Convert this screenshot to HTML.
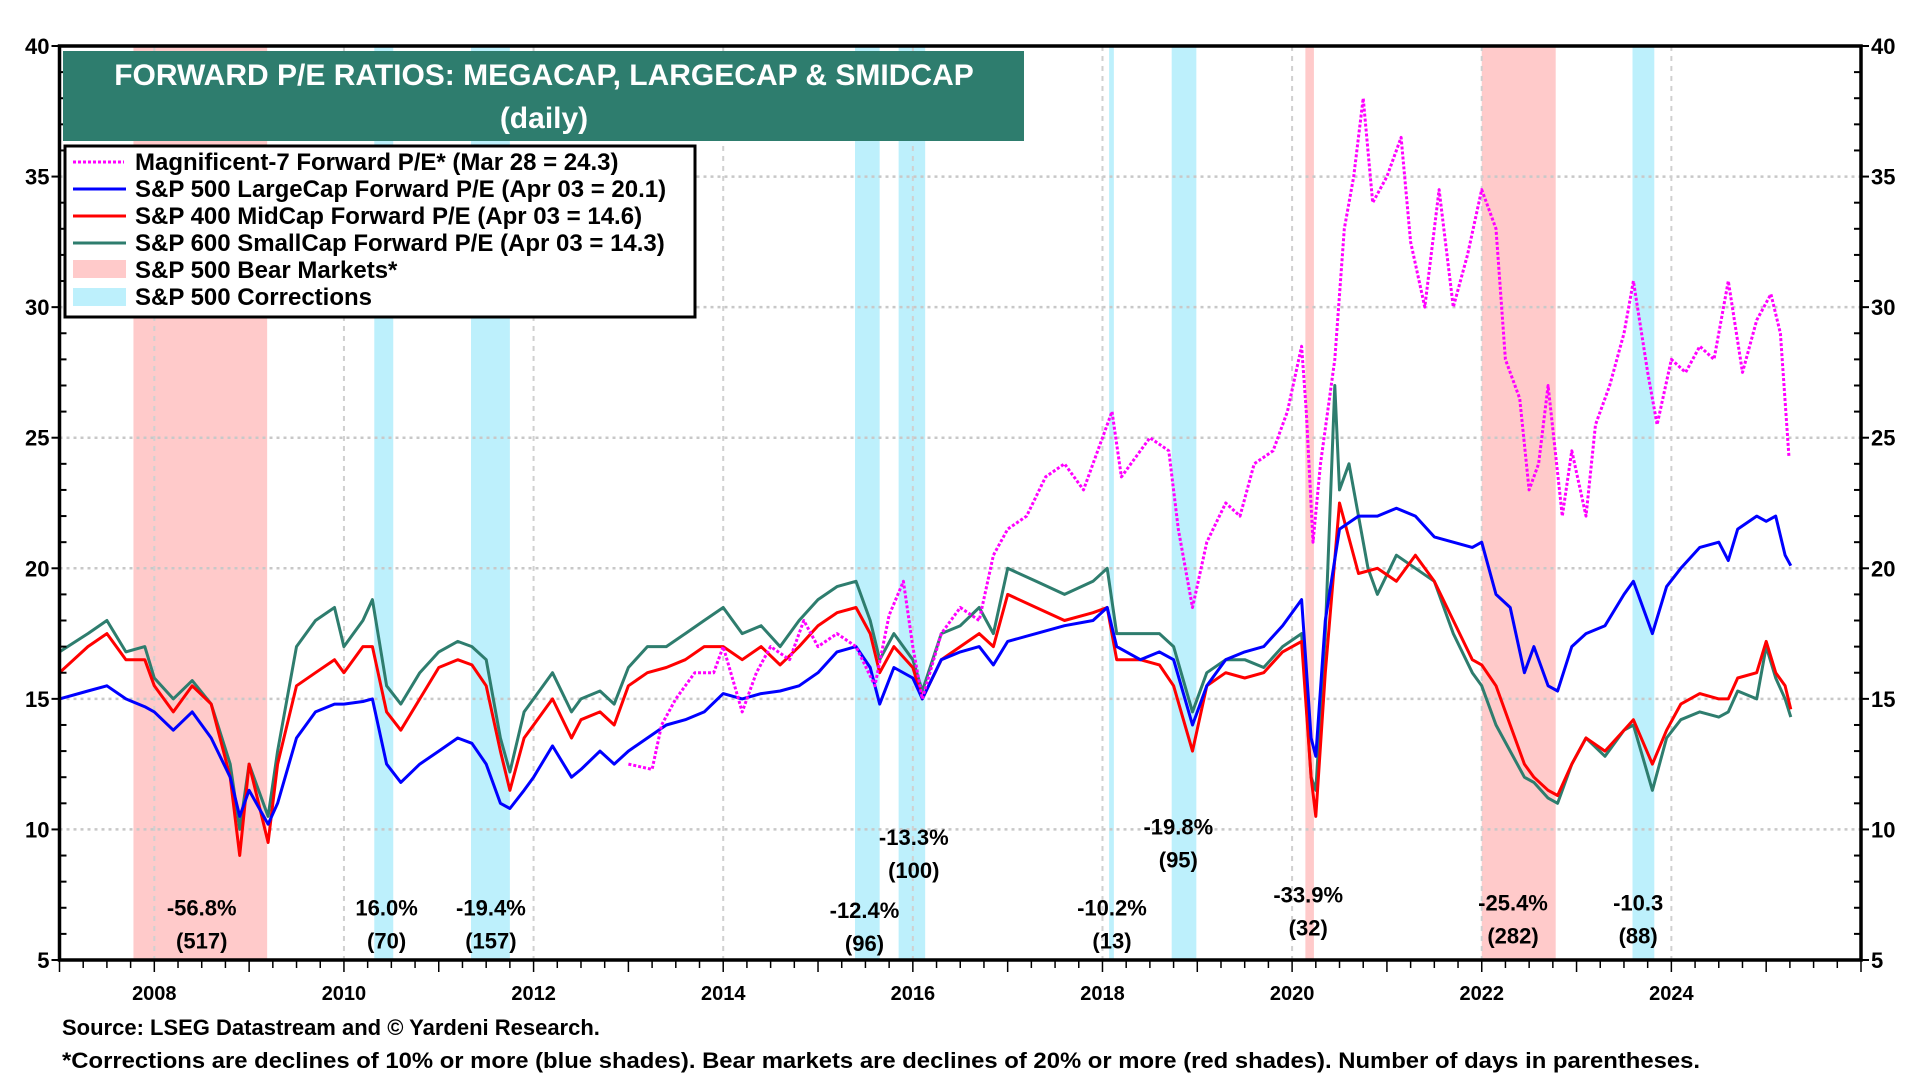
<!DOCTYPE html>
<html><head><meta charset="utf-8"><style>
html,body{margin:0;padding:0;background:#fff;}
svg{display:block;font-family:"Liberation Sans",Arial,sans-serif;font-weight:bold;}
</style></head><body>
<svg id="chart" width="1920" height="1080" viewBox="0 0 1920 1080" xmlns="http://www.w3.org/2000/svg">
<g id="shades"></g>
<g id="grid"></g>
<g id="series"></g>
<g id="axes"></g>
<g id="annots"></g>
<g>
<rect x="63" y="51" width="961" height="90" fill="#2e7d6e"/>
<text x="544" y="85" fill="#fff" font-size="30" text-anchor="middle">FORWARD P/E RATIOS: MEGACAP, LARGECAP &amp; SMIDCAP</text>
<text x="544" y="128" fill="#fff" font-size="30" text-anchor="middle">(daily)</text>
</g>
<g>
<rect x="65" y="146" width="630" height="171" fill="#fff" stroke="#000" stroke-width="3"/>
<g><line x1="73" y1="162" x2="124" y2="162" stroke="#ff00ff" stroke-width="3" stroke-dasharray="3,2"/><text x="135" y="170" font-size="24">Magnificent-7 Forward P/E* (Mar 28 = 24.3)</text></g>
<g><line x1="73" y1="189" x2="126" y2="189" stroke="#0000ff" stroke-width="3"/><text x="135" y="197" font-size="24">S&amp;P 500 LargeCap Forward P/E (Apr 03 = 20.1)</text></g>
<g><line x1="73" y1="216" x2="126" y2="216" stroke="#ff0000" stroke-width="3"/><text x="135" y="224" font-size="24">S&amp;P 400 MidCap Forward P/E (Apr 03 = 14.6)</text></g>
<g><line x1="73" y1="243" x2="126" y2="243" stroke="#2e7d6e" stroke-width="3"/><text x="135" y="251" font-size="24">S&amp;P 600 SmallCap Forward P/E (Apr 03 = 14.3)</text></g>
<g><rect x="73" y="260" width="53" height="18" fill="#ffcaca"/><text x="135" y="278" font-size="24">S&amp;P 500 Bear Markets*</text></g>
<g><rect x="73" y="288" width="53" height="18" fill="#bdf0fc"/><text x="135" y="305" font-size="24">S&amp;P 500 Corrections</text></g>
</g>
<text x="62" y="1035" font-size="22">Source: LSEG Datastream and © Yardeni Research.</text>
<text x="62" y="1068" font-size="22" textLength="1638" lengthAdjust="spacingAndGlyphs">*Corrections are declines of 10% or more (blue shades). Bear markets are declines of 20% or more (red shades). Number of days in parentheses.</text>
</svg>
<script>
const bearStarts=[2007.78,2020.14,2022.0];
const bearEnds=[2009.19,2020.23,2022.78];
const corrStarts=[2010.32,2011.34,2015.39,2015.85,2018.07,2018.73,2023.59];
const corrEnds=[2010.52,2011.75,2015.65,2016.13,2018.12,2018.99,2023.82];
const yearTicks=[2008,2010,2012,2014,2016,2018,2020,2022,2024];
const yTicks=[5,10,15,20,25,30,35,40];
const spxDates=[2007.0,2007.3,2007.5,2007.7,2007.9,2008.0,2008.2,2008.4,2008.6,2008.8,2008.9,2009.0,2009.2,2009.3,2009.5,2009.7,2009.9,2010.0,2010.2,2010.3,2010.45,2010.6,2010.8,2011.0,2011.2,2011.35,2011.5,2011.65,2011.75,2011.9,2012.0,2012.2,2012.4,2012.5,2012.7,2012.85,2013.0,2013.2,2013.4,2013.6,2013.8,2014.0,2014.2,2014.4,2014.6,2014.8,2015.0,2015.2,2015.4,2015.55,2015.65,2015.8,2016.0,2016.1,2016.3,2016.5,2016.7,2016.85,2017.0,2017.3,2017.6,2017.9,2018.05,2018.15,2018.4,2018.6,2018.75,2018.95,2019.1,2019.3,2019.5,2019.7,2019.9,2020.1,2020.2,2020.25,2020.35,2020.5,2020.7,2020.9,2021.1,2021.3,2021.5,2021.7,2021.9,2022.0,2022.15,2022.3,2022.45,2022.55,2022.7,2022.8,2022.95,2023.1,2023.3,2023.5,2023.6,2023.8,2023.95,2024.1,2024.3,2024.5,2024.6,2024.7,2024.9,2025.0,2025.1,2025.2,2025.26];
const spx500=[15.0,15.3,15.5,15.0,14.7,14.5,13.8,14.5,13.5,12,10.5,11.5,10.2,11.0,13.5,14.5,14.8,14.8,14.9,15.0,12.5,11.8,12.5,13.0,13.5,13.3,12.5,11.0,10.8,11.5,12.0,13.2,12.0,12.3,13.0,12.5,13.0,13.5,14.0,14.2,14.5,15.2,15.0,15.2,15.3,15.5,16.0,16.8,17.0,16.2,14.8,16.2,15.8,15.0,16.5,16.8,17.0,16.3,17.2,17.5,17.8,18.0,18.5,17.0,16.5,16.8,16.5,14.0,15.5,16.5,16.8,17.0,17.8,18.8,13.5,12.8,18,21.5,22.0,22.0,22.3,22.0,21.2,21.0,20.8,21.0,19.0,18.5,16.0,17.0,15.5,15.3,17.0,17.5,17.8,19.0,19.5,17.5,19.3,20.0,20.8,21.0,20.3,21.5,22.0,21.8,22.0,20.5,20.1];
const mid400=[16.0,17.0,17.5,16.5,16.5,15.5,14.5,15.5,14.8,12.0,9.0,12.5,9.5,12.5,15.5,16.0,16.5,16.0,17.0,17.0,14.5,13.8,15.0,16.2,16.5,16.3,15.5,13.0,11.5,13.5,14.0,15.0,13.5,14.2,14.5,14.0,15.5,16.0,16.2,16.5,17.0,17.0,16.5,17.0,16.3,17.0,17.8,18.3,18.5,17.5,16.0,17.0,16.2,15.0,16.5,17.0,17.5,17.0,19.0,18.5,18.0,18.3,18.5,16.5,16.5,16.3,15.5,13.0,15.5,16.0,15.8,16.0,16.8,17.2,12.0,10.5,16,22.5,19.8,20,19.5,20.5,19.5,18.0,16.5,16.3,15.5,14.0,12.5,12.0,11.5,11.3,12.5,13.5,13.0,13.8,14.2,12.5,13.8,14.8,15.2,15.0,15.0,15.8,16.0,17.2,16.0,15.5,14.6];
const smlDates=[2007.0,2007.3,2007.5,2007.7,2007.9,2008.0,2008.2,2008.4,2008.6,2008.8,2008.9,2009.0,2009.2,2009.3,2009.5,2009.7,2009.9,2010.0,2010.2,2010.3,2010.45,2010.6,2010.8,2011.0,2011.2,2011.35,2011.5,2011.65,2011.75,2011.9,2012.0,2012.2,2012.4,2012.5,2012.7,2012.85,2013.0,2013.2,2013.4,2013.6,2013.8,2014.0,2014.2,2014.4,2014.6,2014.8,2015.0,2015.2,2015.4,2015.55,2015.65,2015.8,2016.0,2016.1,2016.3,2016.5,2016.7,2016.85,2017.0,2017.3,2017.6,2017.9,2018.05,2018.15,2018.4,2018.6,2018.75,2018.95,2019.1,2019.3,2019.5,2019.7,2019.9,2020.1,2020.2,2020.25,2020.35,2020.45,2020.5,2020.6,2020.8,2020.9,2021.1,2021.3,2021.5,2021.7,2021.9,2022.0,2022.15,2022.3,2022.45,2022.55,2022.7,2022.8,2022.95,2023.1,2023.3,2023.5,2023.6,2023.8,2023.95,2024.1,2024.3,2024.5,2024.6,2024.7,2024.9,2025.0,2025.1,2025.2,2025.26];
const small600=[16.8,17.5,18.0,16.8,17.0,15.8,15.0,15.7,14.8,12.5,10.0,12.5,10.5,13.0,17.0,18.0,18.5,17.0,18.0,18.8,15.5,14.8,16.0,16.8,17.2,17.0,16.5,13.5,12.2,14.5,15.0,16.0,14.5,15.0,15.3,14.8,16.2,17.0,17.0,17.5,18.0,18.5,17.5,17.8,17.0,18.0,18.8,19.3,19.5,18.0,16.5,17.5,16.5,15.3,17.5,17.8,18.5,17.5,20.0,19.5,19.0,19.5,20.0,17.5,17.5,17.5,17.0,14.5,16.0,16.5,16.5,16.2,17.0,17.5,12.0,11.5,17.5,27.0,23.0,24.0,20.0,19.0,20.5,20.0,19.5,17.5,16.0,15.5,14.0,13.0,12.0,11.8,11.2,11.0,12.5,13.5,12.8,13.8,14.0,11.5,13.5,14.2,14.5,14.3,14.5,15.3,15.0,17.0,15.8,15.0,14.3];
const magDates=[2013.0,2013.25,2013.35,2013.5,2013.7,2013.9,2014.0,2014.2,2014.35,2014.5,2014.7,2014.85,2015.0,2015.2,2015.4,2015.6,2015.75,2015.9,2016.0,2016.1,2016.3,2016.5,2016.7,2016.85,2017.0,2017.2,2017.4,2017.6,2017.8,2017.95,2018.1,2018.2,2018.3,2018.5,2018.7,2018.8,2018.95,2019.1,2019.3,2019.45,2019.6,2019.8,2019.95,2020.1,2020.15,2020.22,2020.3,2020.45,2020.55,2020.65,2020.75,2020.85,2021.0,2021.15,2021.25,2021.4,2021.55,2021.7,2021.85,2022.0,2022.15,2022.25,2022.4,2022.5,2022.6,2022.7,2022.85,2022.95,2023.1,2023.2,2023.35,2023.5,2023.6,2023.75,2023.85,2024.0,2024.15,2024.3,2024.45,2024.6,2024.75,2024.9,2025.05,2025.15,2025.24];
const mag7=[12.5,12.3,14.0,15.0,16.0,16.0,17.0,14.5,16.0,17.0,16.5,18.0,17.0,17.5,17.0,15.5,18.2,19.5,17.0,15.0,17.5,18.5,18.0,20.5,21.5,22.0,23.5,24.0,23.0,24.5,26.0,23.5,24.0,25.0,24.5,21.5,18.5,21.0,22.5,22.0,24.0,24.5,26.0,28.5,26.0,21.0,24.0,28.0,33.0,35.0,38.0,34.0,35.0,36.5,32.5,30.0,34.5,30.0,32.0,34.5,33.0,28.0,26.5,23.0,24.0,27.0,22.0,24.5,22.0,25.5,27.0,29.0,31.0,27.5,25.5,28.0,27.5,28.5,28.0,31.0,27.5,29.5,30.5,29.0,24.3];
const annotPct=['-56.8%','16.0%','-19.4%','-12.4%','-13.3%','-10.2%','-19.8%','-33.9%','-25.4%','-10.3'];
const annotDays=['(517)','(70)','(157)','(96)','(100)','(13)','(95)','(32)','(282)','(88)'];
const annotX=[2008.5,2010.45,2011.55,2015.49,2016.01,2018.1,2018.8,2020.17,2022.33,2023.65];
const annotY=[6.7,6.7,6.7,6.6,9.4,6.7,9.8,7.2,6.9,6.9];

const NS='http://www.w3.org/2000/svg';
const L=59.5,R=1861,T=46,B=960,X0=2007.0,X1=2026.0,Y0=5,Y1=40;
const x=v=>L+(v-X0)/(X1-X0)*(R-L);
const y=v=>B-(v-Y0)/(Y1-Y0)*(B-T);
function mk(tag,attrs,parent){const e=document.createElementNS(NS,tag);for(const k in attrs)e.setAttribute(k,attrs[k]);parent.appendChild(e);return e;}
const shades=document.getElementById('shades'),grid=document.getElementById('grid'),series=document.getElementById('series'),axes=document.getElementById('axes'),annots=document.getElementById('annots');
bearStarts.forEach((s,i)=>{const r=mk('rect',{x:x(s),y:T,width:x(bearEnds[i])-x(s),height:B-T,fill:'#ffcaca'},shades);

});
corrStarts.forEach((s,i)=>{const r=mk('rect',{x:x(s),y:T,width:Math.max(3,x(corrEnds[i])-x(s)),height:B-T,fill:'#bdf0fc'},shades);

});
yTicks.forEach(v=>{if(v===5||v===40)return;const g=mk('line',{x1:L,x2:R,y1:y(v),y2:y(v),stroke:'#c8c8c8','stroke-width':2.5,'stroke-dasharray':'3,4'},grid);

});
yearTicks.forEach(v=>{const g=mk('line',{x1:x(v),x2:x(v),y1:T,y2:B,stroke:'#d0d0d0','stroke-width':2,'stroke-dasharray':'5,5'},grid);

});
function line(dates,vals,color,name,dash){const d=dates.map((t,i)=>(i?'L':'M')+x(t).toFixed(1)+','+y(vals[i]).toFixed(1)).join('');
const p=mk('path',{d:d,fill:'none',stroke:color,'stroke-width':3,'stroke-linejoin':'round'},series);
if(dash)p.setAttribute('stroke-dasharray',dash);

}
line(smlDates,small600,'#2e7d6e','sp600-smallcap-line');
line(spxDates,mid400,'#ff0000','sp400-midcap-line');
line(spxDates,spx500,'#0000ff','sp500-largecap-line');
line(magDates,mag7,'#ff00ff','mag7-line','3,2');
const fr=mk('rect',{x:L,y:T,width:R-L,height:B-T,fill:'none',stroke:'#000','stroke-width':3.5},axes);


for(let v=5;v<=40;v++){const major=v%5===0;
mk('line',{x1:L-(major?8:0),x2:L+(major?0:7),y1:y(v),y2:y(v),stroke:'#000','stroke-width':2},axes);
mk('line',{x1:R-(major?0:7),x2:R+(major?8:0),y1:y(v),y2:y(v),stroke:'#000','stroke-width':2},axes);}
yTicks.forEach(v=>{const a=mk('text',{x:L-10,y:y(v)+8,'font-size':22,'text-anchor':'end'},axes);a.textContent=v;


const b=mk('text',{x:R+10,y:y(v)+8,'font-size':22,'text-anchor':'start'},axes);b.textContent=v;

});
for(let q=X0*4;q<=X1*4;q++){const t=q/4;mk('line',{x1:x(t),x2:x(t),y1:B,y2:B+(q%4===0?12:8),stroke:'#000','stroke-width':1.5},axes);}
yearTicks.forEach(v=>{const a=mk('text',{x:x(v),y:1000,'font-size':20,'text-anchor':'middle'},axes);a.textContent=v;

});
annotPct.forEach((s,i)=>{const a=mk('text',{x:x(annotX[i]),y:y(annotY[i]),'font-size':22,'text-anchor':'middle'},annots);a.textContent=s;


const b=mk('text',{x:x(annotX[i]),y:y(annotY[i])+33,'font-size':22,'text-anchor':'middle'},annots);b.textContent=annotDays[i];

});
</script>
</body></html>
